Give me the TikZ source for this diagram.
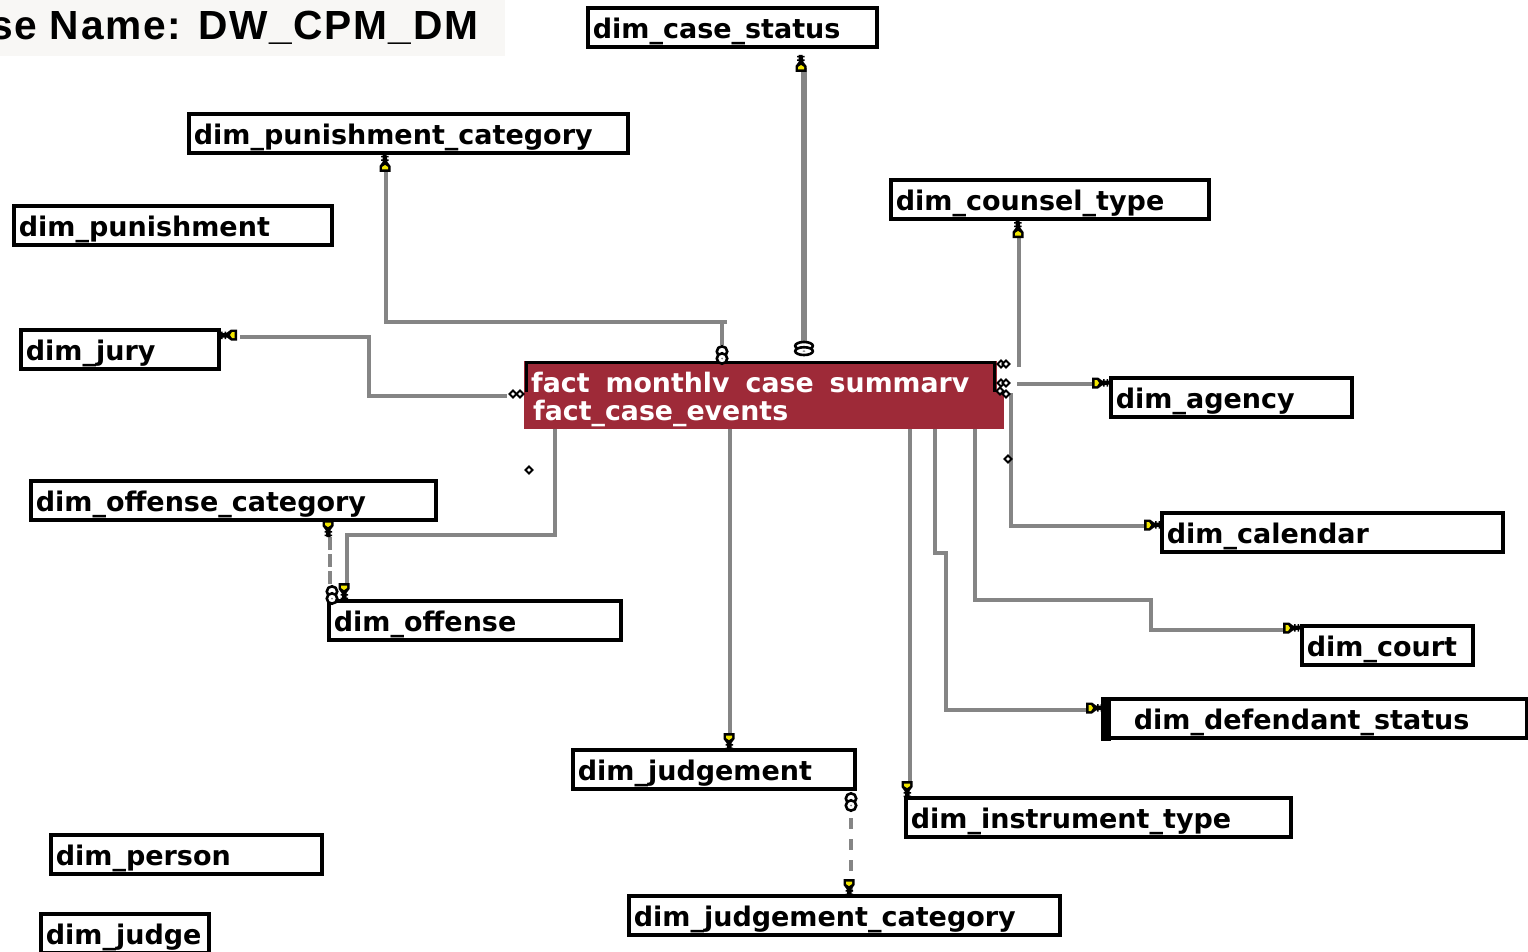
\documentclass[tikz,border=0pt]{standalone}
\usepackage{amsmath}
\usepackage{fontspec}
\setmainfont{DejaVu Sans}[BoldFont={DejaVu Sans Bold}]
\newfontfamily\titlefont{Liberation Sans Bold}
\definecolor{factred}{HTML}{9E2A38}
\definecolor{linkgray}{HTML}{858585}
\definecolor{titlebg}{HTML}{F8F7F5}
\definecolor{keyyellow}{HTML}{F2E600}
\tikzset{
  dimbox/.style={draw=black,line width=3.6pt,fill=white,anchor=north west,xshift=-1pt,yshift=1pt,inner xsep=5pt,inner ysep=0pt,
    text width=#1pt-11.6pt,text height=30.5pt,text depth=8.9pt,align=left,font=\fontsize{27}{30}\selectfont\bfseries},
  link/.style={linkgray,line width=4pt},
  keymark/.pic={
    \fill[black] (-5,-5.5) -- (1,-5.5) -- (5,-2.5) -- (12,-2.5) -- (12,1.5) -- (5,2.5) -- (1,5.5) -- (-5,5.5) -- cycle;
    \fill[keyyellow] (-2.5,-3) -- (0,-3) -- (2,0) -- (0,3) -- (-2.5,3) -- cycle;
    \fill[black] (6,-4) rectangle (7.5,3.5) (9.5,-4) rectangle (11,3.5);
  },
  ringmark/.pic={
    \draw[black,line width=2.6pt,fill=white] (0,-3.5) circle (5.2);
    \draw[black,line width=2.6pt,fill=white] (0,3.5) circle (5.2);
    \fill[gray] (0,3.5) circle (1);
  },
  diamark/.pic={
    \draw[black,line width=2pt,fill=white] (-3.5,0) -- (0,3.5) -- (3.5,0) -- (0,-3.5) -- cycle;
  }
}
\begin{document}
\begin{tikzpicture}[x=1pt,y=-1pt]
  \useasboundingbox (0,0) rectangle (1528,952);

  % title
  \begin{scope}
    \clip (0,0) rectangle (505,56);
    \fill[titlebg] (0,0) rectangle (505,56);
    \node[anchor=base west,inner sep=0pt,font=\fontsize{40.7}{41}\titlefont\addfontfeature{LetterSpace=4}] (title) at (-10,40) {se Name: DW\_CPM\_DM};
  \end{scope}

  % fact table
  \node[fill=factred,anchor=north west,minimum width=480pt,minimum height=68pt,inner sep=0pt] (fact) at (524,361) {};
  \fill[white] (996.5,358) rectangle (1006,392);
  \draw[black,line width=3.4pt] (526.5,392) -- (526.5,362.7) -- (994.5,362.7) -- (994.5,392);
  \node[anchor=base west,inner sep=0pt,text=white,font=\fontsize{26.8}{30}\selectfont\bfseries] (fact_top) at (531,392) {fact\hspace{16pt}monthlv\hspace{16pt}case\hspace{16pt}summarv};
  \node[anchor=base west,inner sep=0pt,text=white,font=\fontsize{26.8}{30}\selectfont\bfseries] (fact_bottom) at (533,420) {fact\_case\_events};

  % dimension tables
  \node[dimbox=291] (case_status) at (587,7) {dim\_case\_status};
  \node[dimbox=441] (punishment_category) at (188,113) {dim\_punishment\_category};
  \node[dimbox=320] (punishment) at (13,205) {dim\_punishment};
  \node[dimbox=320] (counsel_type) at (890,179) {dim\_counsel\_type};
  \node[dimbox=200] (jury) at (20,329) {dim\_jury};
  \node[dimbox=243] (agency) at (1110,377) {dim\_agency};
  \node[dimbox=407] (offense_category) at (30,480) {dim\_offense\_category};
  \node[dimbox=294] (offense) at (328,600) {dim\_offense};
  \node[dimbox=343] (calendar) at (1161,512) {dim\_calendar};
  \node[dimbox=173] (court) at (1301,625) {dim\_court};
  \node[dimbox=426] (defendant_status) at (1102,698) {\hspace*{26pt}dim\_defendant\_status};
  \fill[black] (1101,697) rectangle (1111,741);
  \node[dimbox=284] (judgement) at (572,749) {dim\_judgement};
  \node[dimbox=387] (instrument_type) at (905,797) {dim\_instrument\_type};
  \node[dimbox=433] (judgement_category) at (628,895) {dim\_judgement\_category};
  \node[dimbox=273] (person) at (50,834) {dim\_person};
  \node[dimbox=170] (judge) at (40,913) {dim\_judge};

  % free ends of the connectors
  \coordinate (status_end) at (804,68);
  \coordinate (status_start) at (804,342);
  \coordinate (category_end) at (386,172);
  \coordinate (category_start) at (722,345);
  \coordinate (counsel_end) at (1019,238);
  \coordinate (counsel_start) at (1019,367);
  \coordinate (jury_end) at (240,337);
  \coordinate (jury_start) at (507,396);
  \coordinate (agency_end) at (1093,384);
  \coordinate (agency_start) at (1017,384);
  \coordinate (calendar_end) at (1145,526);
  \coordinate (calendar_start) at (1011,393);
  \coordinate (court_end) at (1284,630);
  \coordinate (defendant_end) at (1087,710);
  \coordinate (judgement_end) at (730,733);
  \coordinate (instrument_end) at (910,782);
  \coordinate (offense_end) at (347,583);

  % connectors
  \draw[link,line width=6pt] (status_start) -- (status_end);
  \draw[link] (category_start) -- (722,322);
  \draw[link] (727,322) -- (386,322) -- (category_end);
  \draw[link] (counsel_start) -- (counsel_end);
  \draw[link] (jury_end) -- (369,337) -- (369,396) -- (jury_start);
  \draw[link] (agency_start) -- (agency_end);
  \draw[link] (calendar_start) -- (1011,526) -- (calendar_end);
  \draw[link] (fact.south -| 975,0) -- (975,600) -- (1151,600) -- (1151,630) -- (court_end);
  \draw[link] (fact.south -| 935,0) -- (935,553) -- (946,553) -- (946,710) -- (defendant_end);
  \draw[link] (fact.south -| judgement_end) -- (judgement_end);
  \draw[link] (fact.south -| instrument_end) -- (instrument_end);
  \draw[link] (fact.south -| 555,0) -- (555,535) -- (offense_end |- 0,535) -- (offense_end);
  \draw[link,dash pattern=on 13pt off 4pt] (offense_category.south -| 330,0) ++(0,15) -- (330,585);
  \draw[link,dash pattern=on 11pt off 10pt] (851,818) -- (judgement_category.north -| 851,0) ++(0,-20);

  % keys
  \pic[rotate=90] at (801,67) {keymark};
  \pic[rotate=90] at (385,167) {keymark};
  \pic[rotate=90] at (1018,233) {keymark};
  \pic[rotate=180] at (232,335) {keymark};
  \pic at (1097,383) {keymark};
  \pic at (1149,525) {keymark};
  \pic at (1288,628) {keymark};
  \pic at (1091,708) {keymark};
  \pic[rotate=-90] at (729,738) {keymark};
  \pic[rotate=-90] at (907,786) {keymark};
  \pic[rotate=-90] at (344,588) {keymark};
  \pic[rotate=-90] at (328,525) {keymark};
  \pic[rotate=-90] at (849,884) {keymark};

  % rings
  \pic at (722,355) {ringmark};
  \pic[xscale=1.7,yscale=.75] at (804,348.5) {ringmark};
  \pic at (332,595) {ringmark};
  \pic at (851,802) {ringmark};

  % diamonds
  \foreach \px/\py in {513/394,520/394,529/470,1001/364,1006/364,1001/383,1006/383,1006/394,1000/391,1008/459}
    \pic at (\px,\py) {diamark};
\end{tikzpicture}
\end{document}
